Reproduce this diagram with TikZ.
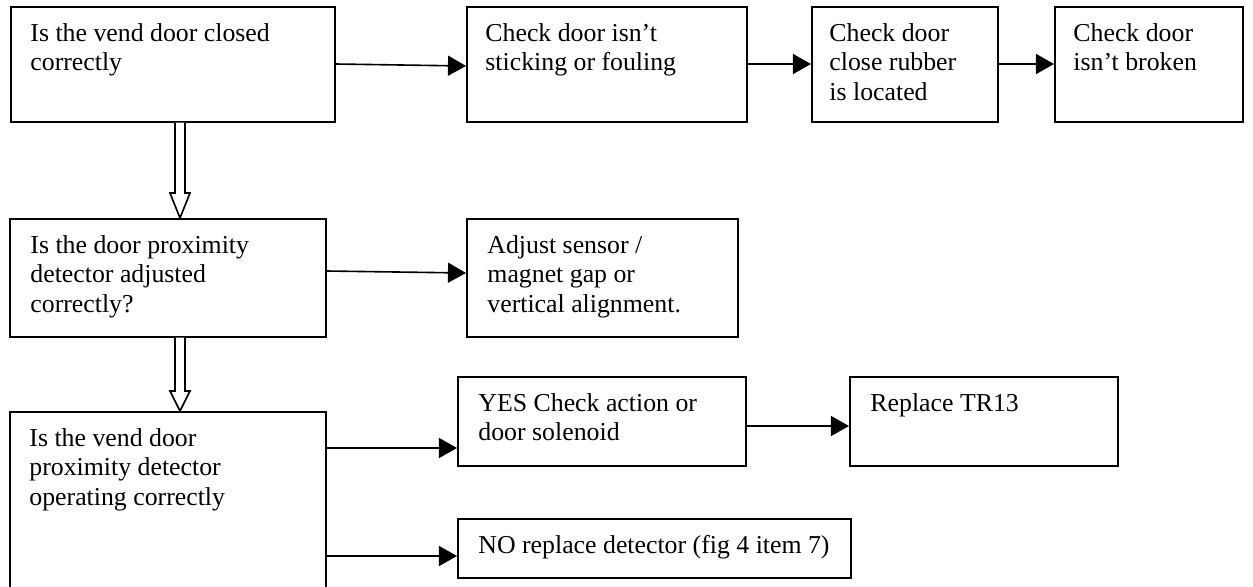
\documentclass[tikz,border=0pt]{standalone}
\usepackage{fontspec}
\setmainfont{Liberation Serif}
\usetikzlibrary{arrows.meta,calc}
\tikzset{
  box/.style={draw, line width=0.75pt, anchor=north west, inner sep=0pt},
  sz/.style 2 args={minimum width=#1*0.465pt, minimum height=#2*0.465pt},
  txt/.style={anchor=north west, inner sep=0pt, align=left, font=\fontsize{12}{13.8}\selectfont},
  conn/.style={line width=0.75pt, -{Triangle[length=8.4pt,width=9.3pt]}},
  darrow/.style={draw, fill=white, line width=0.75pt, line join=miter}
}
\begin{document}
\begin{tikzpicture}[x=0.465pt, y=-0.465pt]
\clip (0,0) rectangle (1253,586);
\fill[white] (0,0) rectangle (1253,586);
% boxes
\node[box, sz={324}{115}] (b1) at (10,6) {};
\node[box, sz={280}{115}] (b2) at (466,6) {};
\node[box, sz={186}{115}] (b3) at (811,6) {};
\node[box, sz={188}{115}] (b4) at (1054,6) {};
\node[box, sz={316}{118}] (b5) at (9,218) {};
\node[box, sz={271}{118}] (b6) at (466,218) {};
\node[box, sz={316}{200}] (b7) at (9,411) {};
\node[box, sz={288}{89}] (b8) at (457,376) {};
\node[box, sz={268}{89}] (b9) at (849,376) {};
\node[box, sz={393}{59}] (b10) at (457,518) {};
% texts
\node[txt] (t1) at ($(b1.north west)+(20,14)$) {\strut Is the vend door closed\\correctly};
\node[txt] (t2) at ($(b2.north west)+(19,14)$) {\strut Check door isn’t\\sticking or fouling};
\node[txt] (t3) at ($(b3.north west)+(18,14)$) {\strut Check door\\close rubber\\is located};
\node[txt] (t4) at ($(b4.north west)+(19,14)$) {\strut Check door\\isn’t broken};
\node[txt] (t5) at ($(b5.north west)+(21,14)$) {\strut Is the door proximity\\detector adjusted\\correctly?};
\node[txt] (t6) at ($(b6.north west)+(21,14)$) {\strut Adjust sensor /\\magnet gap or\\vertical alignment.};
\node[txt] (t7) at ($(b7.north west)+(20,14)$) {\strut Is the vend door\\proximity detector\\operating correctly};
\node[txt] (t8) at ($(b8.north west)+(21,14)$) {\strut YES Check action or\\door solenoid};
\node[txt] (t9) at ($(b9.north west)+(21,14)$) {\strut Replace TR13};
\node[txt] (t10) at ($(b10.north west)+(21,14)$) {\strut NO replace detector (fig 4 item 7)};
% connectors
\draw[conn] ($(b1.north east)+(0,58)$) -- ($(b2.north west)+(0,60)$);
\draw[conn] ($(b2.north east)+(0,58)$) -- ($(b3.north west)+(0,58)$);
\draw[conn] ($(b3.north east)+(0,58)$) -- ($(b4.north west)+(0,58)$);
\draw[conn] ($(b5.north east)+(0,53)$) -- ($(b6.north west)+(0,55)$);
\draw[conn] ($(b7.north east)+(0,37)$) -- ($(b8.north west)+(0,72)$);
\draw[conn] ($(b8.north east)+(0,50)$) -- ($(b9.north west)+(0,50)$);
\draw[conn] ($(b7.north east)+(0,145)$) -- ($(b10.north west)+(0,38)$);
% hollow down arrows
\coordinate (ax) at (180,0);
\draw[darrow] ($(ax|-b1.south)+(-5,0)$) -- ($(ax|-b5.north)+(-5,-25)$) -- ($(ax|-b5.north)+(-10,-25)$)
  -- (ax|-b5.north) -- ($(ax|-b5.north)+(10,-25)$) -- ($(ax|-b5.north)+(5,-25)$) -- ($(ax|-b1.south)+(5,0)$);
\draw[darrow] ($(ax|-b5.south)+(-5,0)$) -- ($(ax|-b7.north)+(-5,-20)$) -- ($(ax|-b7.north)+(-10,-20)$)
  -- (ax|-b7.north) -- ($(ax|-b7.north)+(10,-20)$) -- ($(ax|-b7.north)+(5,-20)$) -- ($(ax|-b5.south)+(5,0)$);
\end{tikzpicture}
\end{document}
